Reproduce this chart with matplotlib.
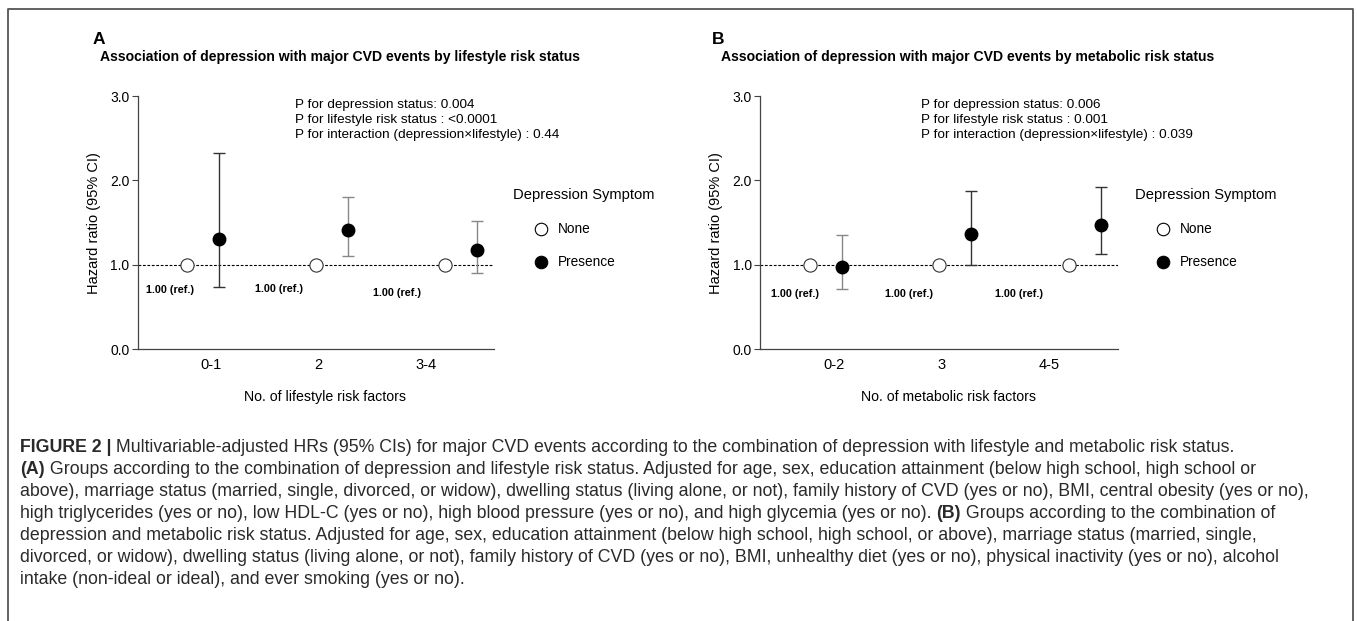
import matplotlib
matplotlib.use('Agg')
import matplotlib.pyplot as plt
import numpy as np
from matplotlib.lines import Line2D

plt.rcParams['font.family'] = ['Liberation Sans', 'Noto Sans CJK SC', 'DejaVu Sans']

# data
groups_a = ['0-1', '2', '3-4']
hr_a = [1.31, 1.41, 1.18]
lo_a = [0.74, 1.11, 0.90]
hi_a = [2.32, 1.80, 1.52]

groups_b = ['0-2', '3', '4-5']
hr_b = [0.98, 1.36, 1.47]
lo_b = [0.72, 1.00, 1.13]
hi_b = [1.35, 1.87, 1.92]

ref_hr = [1.0, 1.0, 1.0]
ref_text = '1.00 (ref.)'

p_a = ['P for depression status: 0.004',
       'P for lifestyle risk status : <0.0001',
       'P for interaction (depression×lifestyle) : 0.44']
p_b = ['P for depression status: 0.006',
       'P for lifestyle risk status : 0.001',
       'P for interaction (depression×lifestyle) : 0.039']

caption = [
    [('FIGURE 2 |', 'bold'), (' Multivariable-adjusted HRs (95% CIs) for major CVD events according to the combination of depression with lifestyle and metabolic risk status.', 'normal')],
    [('(A)', 'bold'), (' Groups according to the combination of depression and lifestyle risk status. Adjusted for age, sex, education attainment (below high school, high school or', 'normal')],
    [('above), marriage status (married, single, divorced, or widow), dwelling status (living alone, or not), family history of CVD (yes or no), BMI, central obesity (yes or no),', 'normal')],
    [('high triglycerides (yes or no), low HDL-C (yes or no), high blood pressure (yes or no), and high glycemia (yes or no). ', 'normal'), ('(B)', 'bold'), (' Groups according to the combination of', 'normal')],
    [('depression and metabolic risk status. Adjusted for age, sex, education attainment (below high school, high school, or above), marriage status (married, single,', 'normal')],
    [('divorced, or widow), dwelling status (living alone, or not), family history of CVD (yes or no), BMI, unhealthy diet (yes or no), physical inactivity (yes or no), alcohol', 'normal')],
    [('intake (non-ideal or ideal), and ever smoking (yes or no).', 'normal')],
]

W, H = 1357, 621
fig = plt.figure(figsize=(W / 100, H / 100), dpi=100)


def fx(x):
    return x / W


def fy(y):
    return 1 - y / H


def panel(left, right, labels, hr, lo, hi, bar_cols, ref_dx, ref_y, xtitle):
    ax = fig.add_axes([fx(left), fy(349.3), fx(right) - fx(left), fy(96) - fy(349.3)])
    x = np.arange(len(labels))
    ax.axhline(1.0, color='black', ls=(0, (2.5, 1.5)), lw=0.8, zorder=1)
    for i in range(len(x)):
        ax.errorbar(x[i] + 0.25, hr[i], yerr=[[hr[i] - lo[i]], [hi[i] - hr[i]]],
                    fmt='o', color=bar_cols[i], mfc='black', mec='black', ms=9,
                    capsize=4.2, elinewidth=1, capthick=1, zorder=3)
        ax.text(x[i] + ref_dx[i], ref_y[i], ref_text, fontsize=7.8, fontweight='bold',
                ha='center', va='center')
    ax.plot(x, ref_hr, 'o', mfc='white', mec='#333333', ms=9.5, mew=0.8, zorder=4)
    ax.set_xlim(-0.38, 2.38)
    ax.set_ylim(0, 3)
    ax.set_xticks([0.19, 1.02, 1.85])
    ax.set_xticklabels(labels, fontsize=10.5)
    ax.set_yticks([0, 1, 2, 3])
    ax.set_yticklabels(['0.0', '1.0', '2.0', '3.0'], fontsize=10)
    ax.tick_params(axis='x', length=0, pad=6)
    ax.tick_params(axis='y', length=4, width=0.8, color='#444444', pad=2)
    for s in ['top', 'right']:
        ax.spines[s].set_visible(False)
    for s in ['left', 'bottom']:
        ax.spines[s].set_color('#444444')
        ax.spines[s].set_linewidth(0.9)
    ax.set_ylabel('Hazard ratio (95% CI)', fontsize=10.5)
    ax.yaxis.set_label_coords(-37 / (right - left), 0.5)
    fig.text(fx((left + right) / 2 + 9), fy(397), xtitle, fontsize=10.2, ha='center', va='center')
    return ax


panel(137.7, 494, groups_a, hr_a, lo_a, hi_a, ['#333333', '#888888', '#888888'],
      [-0.13, -0.285, -0.37], [0.70, 0.715, 0.67], 'No. of lifestyle risk factors')
panel(760.3, 1117.9, groups_b, hr_b, lo_b, hi_b, ['#888888', '#333333', '#333333'],
      [-0.11, -0.235, -0.38], [0.66, 0.66, 0.66], 'No. of metabolic risk factors')

# panel letters, titles, p-values, legends
for lx, tx, letter, title, px, pv, lgx in [
        (93, 100, 'A', 'Association of depression with major CVD events by lifestyle risk status', 295, p_a, 512.7),
        (712, 721, 'B', 'Association of depression with major CVD events by metabolic risk status', 920.7, p_b, 1135)]:
    fig.text(fx(lx), fy(40), letter, fontsize=12.5, fontweight='bold', va='center')
    fig.text(fx(tx), fy(57), title, fontsize=10.1, fontweight='bold', va='center')
    for k, line in enumerate(pv):
        fig.text(fx(px), fy(105 + 15 * k), line, fontsize=9.7, va='center')
    fig.text(fx(lgx), fy(195), 'Depression Symptom', fontsize=10.6, va='center')
    for k, (lab, fc) in enumerate([('None', 'white'), ('Presence', 'black')]):
        yy = 229 + 32.7 * k
        fig.add_artist(Line2D([fx(lgx + 28)], [fy(yy)], marker='o', ms=9, mfc=fc,
                              mec='black', mew=0.8, ls='none', transform=fig.transFigure))
        fig.text(fx(lgx + 45), fy(yy), lab, fontsize=9.8, va='center')

# border
bc = '#555555'
fig.add_artist(Line2D([fx(8), fx(8), fx(1353), fx(1353)], [0, fy(9), fy(9), 0],
                      color=bc, lw=1.3, transform=fig.transFigure))

# caption
fig.canvas.draw()
renderer = fig.canvas.get_renderer()
probe = fig.text(0, 0, caption[2][0][0], fontsize=10)
wpx = probe.get_window_extent(renderer).width
probe.remove()
cap_fs = 10 * 1298 / wpx
for i, segs in enumerate(caption):
    x0 = 20
    for txt, wt in segs:
        t = fig.text(fx(x0), fy(448 + 22 * i), txt, fontsize=cap_fs, fontweight=wt,
                     color='#2a2a2a', va='center')
        x0 += t.get_window_extent(renderer).width

fig.savefig('out.png', dpi=100)
